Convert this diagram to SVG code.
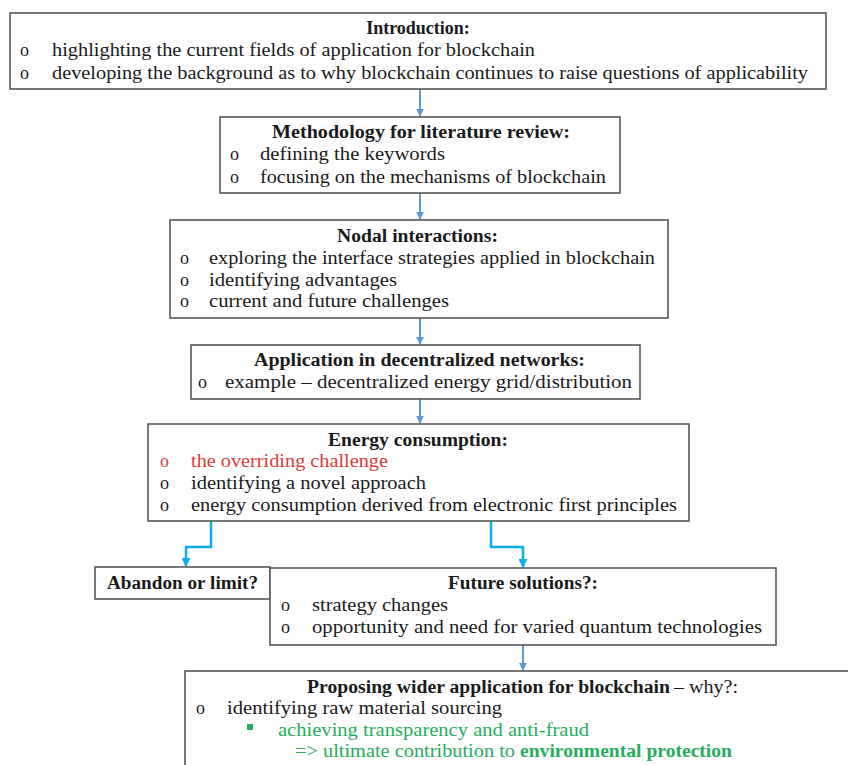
<svg xmlns="http://www.w3.org/2000/svg" width="848" height="765" viewBox="0 0 848 765">
<style>
  .box { fill: #ffffff; stroke: #4d4d4d; stroke-width: 1.5; }
  .t { font-family: "Liberation Serif", "Times New Roman", serif; font-size: 18px; fill: #1a1a1a; }
  .b { font-weight: bold; }
  .c { text-anchor: middle; }
  .red { fill: #dc3a40; }
  .grn { fill: #26ad5c; }
  .arr { stroke: #5b9bd5; stroke-width: 2; fill: none; }
  .elb { stroke: #0aaef0; stroke-width: 2.5; fill: none; }
</style>
<defs>
  <marker id="ah" viewBox="0 0 10 10" refX="9" refY="5" markerWidth="4" markerHeight="4" orient="auto" markerUnits="strokeWidth">
    <path d="M0,0 L10,5 L0,10 z" fill="#5b9bd5"/>
  </marker>
  <marker id="ah2" viewBox="0 0 10 10" refX="9" refY="5" markerWidth="3.6" markerHeight="3.6" orient="auto" markerUnits="strokeWidth">
    <path d="M0,0 L10,5 L0,10 z" fill="#0aaef0"/>
  </marker>
</defs>
<rect width="848" height="765" fill="#ffffff"/>

<g id="connectors">
  <line class="arr" x1="420" y1="89" x2="420" y2="116" marker-end="url(#ah)"/>
  <line class="arr" x1="420" y1="193" x2="420" y2="219" marker-end="url(#ah)"/>
  <line class="arr" x1="420" y1="318" x2="420" y2="344" marker-end="url(#ah)"/>
  <line class="arr" x1="420" y1="399" x2="420" y2="423" marker-end="url(#ah)"/>
  <polyline class="elb" points="211,521 211,547 186,547 186,566" marker-end="url(#ah2)"/>
  <polyline class="elb" points="491,521 491,547 523,547 523,567" marker-end="url(#ah2)"/>
  <line class="arr" x1="523" y1="645" x2="523" y2="670" marker-end="url(#ah)"/>
</g>

<g id="intro">
  <rect class="box" x="10" y="13" width="816" height="76"/>
  <text class="t b c" x="418" y="34">Introduction:</text>
  <text class="t" x="20" y="56">o</text>
  <text class="t" x="52" y="56" textLength="483" lengthAdjust="spacingAndGlyphs">highlighting the current fields of application for blockchain</text>
  <text class="t" x="20" y="79">o</text>
  <text class="t" x="52" y="79" textLength="756" lengthAdjust="spacingAndGlyphs">developing the background as to why blockchain continues to raise questions of applicability</text>
</g>

<g id="methodology">
  <rect class="box" x="220" y="117" width="400" height="76"/>
  <text class="t b" x="272" y="138" textLength="298" lengthAdjust="spacingAndGlyphs">Methodology for literature review:</text>
  <text class="t" x="230" y="160">o</text>
  <text class="t" x="260" y="160" textLength="185" lengthAdjust="spacingAndGlyphs">defining the keywords</text>
  <text class="t" x="230" y="183">o</text>
  <text class="t" x="260" y="183" textLength="346" lengthAdjust="spacingAndGlyphs">focusing on the mechanisms of blockchain</text>
</g>

<g id="nodal">
  <rect class="box" x="170" y="220" width="498" height="98"/>
  <text class="t b" x="337" y="242" textLength="161" lengthAdjust="spacingAndGlyphs">Nodal interactions:</text>
  <text class="t" x="180" y="264">o</text>
  <text class="t" x="209" y="264" textLength="446" lengthAdjust="spacingAndGlyphs">exploring the interface strategies applied in blockchain</text>
  <text class="t" x="180" y="286">o</text>
  <text class="t" x="209" y="286" textLength="188" lengthAdjust="spacingAndGlyphs">identifying advantages</text>
  <text class="t" x="180" y="307">o</text>
  <text class="t" x="209" y="307" textLength="240" lengthAdjust="spacingAndGlyphs">current and future challenges</text>
</g>

<g id="application">
  <rect class="box" x="191" y="345" width="449" height="54"/>
  <text class="t b" x="254" y="366" textLength="331" lengthAdjust="spacingAndGlyphs">Application in decentralized networks:</text>
  <text class="t" x="198" y="388">o</text>
  <text class="t" x="225" y="388" textLength="407" lengthAdjust="spacingAndGlyphs">example – decentralized energy grid/distribution</text>
</g>

<g id="energy">
  <rect class="box" x="148" y="424" width="541" height="97"/>
  <text class="t b" x="328" y="446" textLength="180" lengthAdjust="spacingAndGlyphs">Energy consumption:</text>
  <text class="t red" x="160" y="467">o</text>
  <text class="t red" x="191" y="467" textLength="197" lengthAdjust="spacingAndGlyphs">the overriding challenge</text>
  <text class="t" x="160" y="489">o</text>
  <text class="t" x="191" y="489" textLength="235" lengthAdjust="spacingAndGlyphs">identifying a novel approach</text>
  <text class="t" x="160" y="511">o</text>
  <text class="t" x="191" y="511" textLength="486" lengthAdjust="spacingAndGlyphs">energy consumption derived from electronic first principles</text>
</g>

<g id="abandon">
  <rect class="box" x="95" y="567" width="175" height="32"/>
  <text class="t b" x="107" y="589" textLength="151" lengthAdjust="spacingAndGlyphs">Abandon or limit?</text>
</g>

<g id="future">
  <rect class="box" x="270" y="568" width="506" height="77"/>
  <text class="t b" x="448" y="589" textLength="150" lengthAdjust="spacingAndGlyphs">Future solutions?:</text>
  <text class="t" x="281" y="611">o</text>
  <text class="t" x="312" y="611" textLength="136" lengthAdjust="spacingAndGlyphs">strategy changes</text>
  <text class="t" x="281" y="633">o</text>
  <text class="t" x="312" y="633" textLength="450" lengthAdjust="spacingAndGlyphs">opportunity and need for varied quantum technologies</text>
</g>

<g id="proposing">
  <rect class="box" x="185" y="671" width="680" height="120"/>
  <text class="t b" x="307" y="693" textLength="363" lengthAdjust="spacingAndGlyphs">Proposing wider application for blockchain</text>
  <text class="t" x="674" y="693" textLength="64" lengthAdjust="spacingAndGlyphs">– why?:</text>
  <text class="t" x="196" y="714">o</text>
  <text class="t" x="227" y="714" textLength="275" lengthAdjust="spacingAndGlyphs">identifying raw material sourcing</text>
  <rect x="247" y="724" width="6" height="6" fill="#26ad5c"/>
  <text class="t grn" x="278" y="736" textLength="311" lengthAdjust="spacingAndGlyphs">achieving transparency and anti-fraud</text>
  <text class="t grn" x="295" y="757" textLength="220" lengthAdjust="spacingAndGlyphs">=&gt; ultimate contribution to</text>
  <text class="t grn b" x="520" y="757" textLength="212" lengthAdjust="spacingAndGlyphs">environmental protection</text>
</g>
</svg>
